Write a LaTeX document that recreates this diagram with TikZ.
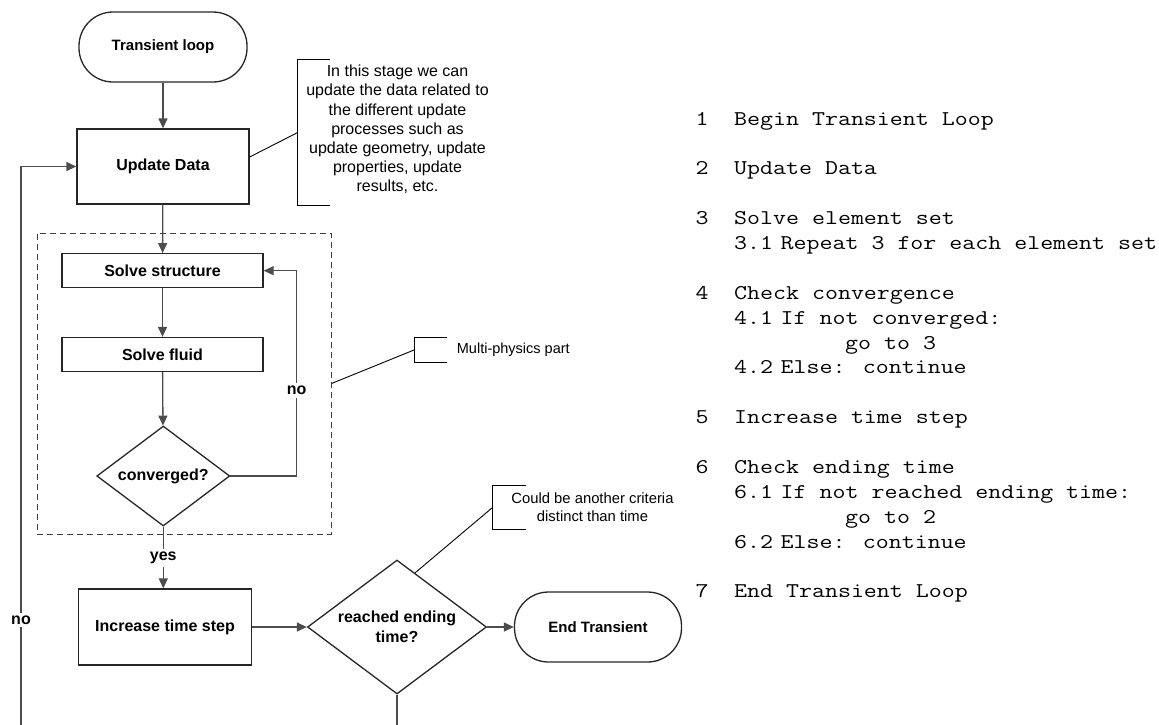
\documentclass[tikz,border=0pt]{standalone}
\usepackage{fontspec}
\setmainfont{Liberation Sans}
\newfontfamily\codefont[FakeStretch=1.2]{Latin Modern Mono}
\usetikzlibrary{shapes.geometric,arrows.meta,calc}

\begin{document}
\begin{tikzpicture}[x=1pt,y=-1pt,
  shapeline/.style={draw=black!85,line width=1.3pt},
  procbox/.style={shapeline,rectangle,inner sep=0pt,align=center,
    font=\fontsize{16}{19}\selectfont\bfseries},
  term/.style={shapeline,rectangle,rounded corners=34pt,inner sep=0pt,
    font=\fontsize{15}{18}\selectfont\bfseries},
  decide/.style={shapeline,diamond,inner sep=0pt,align=center,
    font=\fontsize{16}{20}\selectfont\bfseries},
  groupbox/.style={draw=black!75,line width=1pt,dash pattern=on 6pt off 4pt,
    rectangle,inner sep=0pt},
  flow/.style={draw=black!70,line width=1.3pt,-{Triangle[length=10pt,width=9pt]}},
  tag/.style={fill=white,inner sep=3pt,font=\fontsize{16}{19}\selectfont\bfseries},
  note/.style={draw=black,line width=0.9pt},
  notetext/.style={inner sep=0pt,align=center},
  code/.style={anchor=base west,inner sep=0pt,font=\fontsize{21}{24.88}\selectfont\codefont}
]
\useasboundingbox (0,0) rectangle (1159,724);
\clip (0,0) rectangle (1159,724);

% ---- flowchart nodes ----
\node[term, minimum width=168pt, minimum height=70pt] (start) at (163,47) {Transient loop};
\node[procbox, minimum width=172pt, minimum height=75pt] (upd) at (163,166.5) {Update Data};
\node[groupbox, minimum width=294pt, minimum height=301pt] (mp) at (184,383.5) {};
\node[procbox, minimum width=201pt, minimum height=34pt] (ss) at (162.5,270.7) {Solve structure};
\node[procbox, minimum width=201pt, minimum height=34pt] (sf) at (162.5,354.5) {Solve fluid};
\node[decide, minimum width=133pt, minimum height=100pt, aspect=1.33] (conv) at (163.3,476) {converged?};
\node[procbox, minimum width=173pt, minimum height=76pt] (inc) at (165,627) {Increase time step};
\node[decide, minimum width=179pt, minimum height=134pt, aspect=1.336] (rt) at (397,627) {reached ending\\time?};
\node[term, minimum width=167pt, minimum height=70pt] (end) at (598,627) {End Transient};

% ---- connectors ----
\coordinate (loopR) at (296.7,0);
\coordinate (loopL) at (21,0);
\coordinate (loopB) at (0,745);
\draw[flow] (start) -- (upd);
\draw[flow] (upd) -- (ss);
\draw[flow] (ss) -- (sf);
\draw[flow] (sf) -- (conv);
\draw[flow] (conv.east) -- (conv.east -| loopR) -- (ss.east -| loopR) -- (ss.east);
\draw[flow] (conv.south) -- (conv.south |- inc.north);
\draw[flow] (inc) -- (rt);
\draw[flow] (rt) -- (end);
\draw[flow] (rt.south) -- (rt.south |- loopB) -| (loopL |- upd.west) -- (upd.west);

\node[tag] (no1) at (296.7,390.7) {no};
\node[tag] (yes) at (163.3,558) {yes};
\node[tag] (no2) at (21,620) {no};

% ---- annotations ----
\coordinate (noteA) at (297.3,132.7);
\draw[note] (330,59) -- (297.3,59) -- (297.3,205.7) -- (330,205.7);
\draw[note] ($(upd.east)+(0,-9.5)$) -- (noteA);
\node[notetext, font=\fontsize{16}{19.2}\selectfont] (noteAtext) at (397.5,129.5)
  {In this stage we can\\update the data related to\\the different update\\processes such as\\update geometry, update\\properties, update\\results, etc.};

\coordinate (noteB) at (414,350);
\draw[note] (447.3,337.3) -- (414,337.3) -- (414,362.7) -- (447.3,362.7);
\draw[note] (mp.east) -- (noteB);
\node[notetext, anchor=west, font=\fontsize{14.5}{17}\selectfont] (noteBtext) at (456.7,350) {Multi-physics part};

\coordinate (noteC) at (492.3,507.7);
\draw[note] (526,485.7) -- (492.3,485.7) -- (492.3,529) -- (526,529);
\draw[note] ($(rt.north)!0.2!(rt.east)$) -- (noteC);
\node[notetext, font=\fontsize{14.8}{17.7}\selectfont] (noteCtext) at (592.5,507)
  {Could be another criteria\\distinct than time};

% ---- pseudo-code listing ----
\node[code] (n1) at (695.3,125) {1};
\node[code] (t1) at (734,125) {Begin Transient Loop};
\node[code] (n2) at (695.3,174.8) {2};
\node[code] (t2) at (734,174.8) {Update Data};
\node[code] (n3) at (695.3,224.5) {3};
\node[code] (t3) at (734,224.5) {Solve element set};
\node[code] (n31) at (734,249.4) {3.1};
\node[code] (t31) at (780.5,249.4) {Repeat 3 for each element set};
\node[code] (n4) at (695.3,299.2) {4};
\node[code] (t4) at (734,299.2) {Check convergence};
\node[code] (n41) at (734,324.1) {4.1};
\node[code] (t41) at (780.5,324.1) {If not converged:};
\node[code] (g41) at (845,349) {go to 3};
\node[code] (n42) at (734,373.9) {4.2};
\node[code] (t42) at (780.5,373.9) {Else: continue};
\node[code] (n5) at (695.3,423.6) {5};
\node[code] (t5) at (734,423.6) {Increase time step};
\node[code] (n6) at (695.3,473.4) {6};
\node[code] (t6) at (734,473.4) {Check ending time};
\node[code] (n61) at (734,498.3) {6.1};
\node[code] (t61) at (780.5,498.3) {If not reached ending time:};
\node[code] (g61) at (845,523.2) {go to 2};
\node[code] (n62) at (734,548.1) {6.2};
\node[code] (t62) at (780.5,548.1) {Else: continue};
\node[code] (n7) at (695.3,597.8) {7};
\node[code] (t7) at (734,597.8) {End Transient Loop};
\end{tikzpicture}
\end{document}
